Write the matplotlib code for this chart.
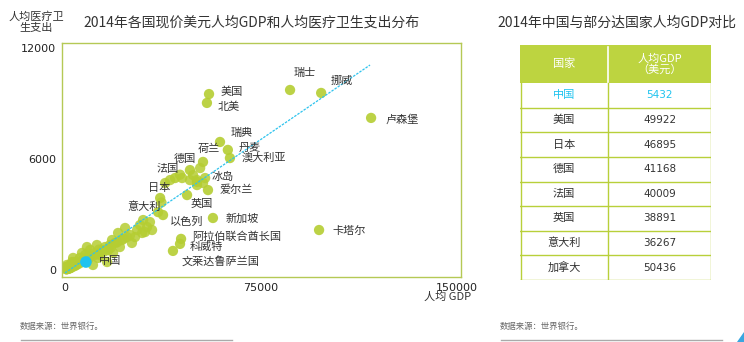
import matplotlib
matplotlib.use("Agg")
import matplotlib.pyplot as plt
from matplotlib.patches import Rectangle, Polygon

plt.rcParams['font.family'] = ['Noto Sans CJK SC', 'DejaVu Sans']

# ---- scatter data: GDP per capita (USD) vs health spend per capita (USD) ----
labeled_names = ["美国", "北美", "瑞士", "挪威", "卢森堡", "瑞典", "丹麦", "澳大利亚",
                 "荷兰", "德国", "法国", "日本", "意大利", "冰岛", "爱尔兰", "英国",
                 "以色列", "新加坡", "卡塔尔", "阿拉伯联合酋长国", "科威特", "文莱达鲁萨兰国"]
labeled_gdp = [55100, 54300, 86100, 98000, 117100, 59300, 62300, 63100,
               52800, 47800, 42100, 36400, 35600, 50500, 54700, 46700,
               37500, 56600, 97200, 44400, 44000, 41300]
labeled_health = [9510, 9030, 9730, 9570, 8220, 6920, 6490, 6050,
                  5840, 5400, 4970, 3890, 3130, 4760, 4320, 4050,
                  2970, 2810, 2160, 1680, 1410, 1030]
# label offsets in pixels (dx, dy) and alignment
label_dx = [12, 11, 3, 9, 14, 11, 11, 12, 17, -5, -7, -1, -14, 15, 12, 15, 24, 13, 13, 11, 10, 9]
label_dy = [2, -4, 17, 12, -2, 9, 2, 1, 13, 11, 9, 10, 5, 5, 0, -9, -7, -1, -1, 2, -3, -10]
label_ha = ["left", "left", "left", "left", "left", "left", "left", "left",
            "right", "center", "center", "center", "center", "left", "left", "center",
            "center", "left", "left", "left", "left", "left"]

other_gdp = [52800, 50500, 47800, 44800, 51700, 49000, 50500, 53600, 40200, 38300,
             29900, 31400, 27600, 29500, 25600, 23000, 20300, 18000, 15300, 12200,
             8400, 6500, 3100, 770, 10700, 16100, 21000, 23700, 2700, 5000,
             13400, 18400, 8800, 500, 300, 24900, 19100, 16500, 11500, 9600,
             7700, 5700, 3800, 1900, 1100, 400, 12600, 14500, 17200, 21800,
             26800, 28700, 32500, 33300, 30600, 36900, 44000, 14000, 9000, 6000,
             4200, 3500, 2300, 1500, 800, 600, 1300, 2000, 2900, 4600,
             5500, 7000, 10000, 11000, 13000, 15000, 17500, 20000, 22500, 1700]
other_health = [4700, 4590, 4860, 4970, 5510, 5130, 4860, 4970, 4860, 4700,
                2700, 2320, 2160, 2000, 1460, 2270, 2000, 1620, 1240, 1350,
                1240, 920, 650, 270, 270, 430, 1240, 1780, 430, 380,
                810, 920, 700, 40, 150, 1890, 1460, 1080, 810, 1080,
                810, 650, 430, 270, 160, 110, 650, 1080, 1350, 1620,
                1780, 2430, 2590, 2160, 2050, 3650, 5150, 1000, 600, 450,
                250, 200, 120, 80, 50, 30, 60, 100, 180, 300,
                350, 500, 750, 900, 1100, 1000, 1200, 1500, 1700, 90]

china_gdp = 8000
china_health = 430

# trend line
trend_x = [0, 116700]
trend_y = [-160, 11080]

# ---- table data ----
table_countries = ["中国", "美国", "日本", "德国", "法国", "英国", "意大利", "加拿大"]
table_gdp = [5432, 49922, 46895, 41168, 40009, 38891, 36267, 50436]

GREEN = "#b8d03a"
CYAN = "#1ec3ef"
TEXT = "#333333"
W, H = 744, 342

fig = plt.figure(figsize=(W / 100, H / 100), dpi=100)

# ---- scatter axes ----
ax = fig.add_axes([62 / W, 1 - 277 / H, 399 / W, 234 / H])
ax.scatter(other_gdp, other_health, s=55, color="#b5cd32", alpha=0.85, edgecolors="none", zorder=2)
ax.scatter(labeled_gdp, labeled_health, s=55, color="#b5cd32", alpha=0.9, edgecolors="none", zorder=2)
ax.plot(trend_x, trend_y, color="#2cc3ee", lw=0.9, ls=(0, (2, 1)), zorder=3)
ax.scatter([china_gdp], [china_health], s=70, color=CYAN, edgecolors="none", zorder=4)

for name, x, y, dx, dy, ha in zip(labeled_names, labeled_gdp, labeled_health,
                                   label_dx, label_dy, label_ha):
    ax.annotate(name, (x, y), xytext=(dx, dy), textcoords="offset pixels",
                ha=ha, va="center", fontsize=8, color=TEXT, zorder=5)
ax.annotate("中国", (china_gdp, china_health), xytext=(13, 1), textcoords="offset pixels",
            ha="left", va="center", fontsize=8, color=TEXT, zorder=5)

ax.set_xlim(-1150, 151500)
ax.set_ylim(-380, 12270)
ax.set_xticks([0, 75000, 150000])
ax.set_yticks([0, 6000, 12000])
ax.tick_params(length=0, labelsize=8, labelcolor="#222222", pad=4)
for lbl in ax.get_xticklabels() + ax.get_yticklabels():
    lbl.set_family("DejaVu Sans")
for sp in ax.spines.values():
    sp.set_color("#b5c955")
    sp.set_linewidth(1)

fig.text(36 / W, 1 - 22 / H, "人均医疗卫\n生支出", ha="center", va="center",
         fontsize=8, color=TEXT, linespacing=1.1)
fig.text(471 / W, 1 - 297 / H, "人均 GDP", ha="right", va="center", fontsize=8, color=TEXT)
fig.text(252 / W, 1 - 23 / H, "2014年各国现价美元人均GDP和人均医疗卫生支出分布",
         ha="center", va="center", fontsize=10, color=TEXT)
fig.text(617 / W, 1 - 23 / H, "2014年中国与部分达国家人均GDP对比",
         ha="center", va="center", fontsize=10, color=TEXT)

# ---- table axes (pixel coords inside) ----
tw, th = 191, 235
tx = fig.add_axes([520 / W, 1 - 280 / H, tw / W, th / H])
tx.set_xlim(0, tw)
tx.set_ylim(th, 0)
tx.axis("off")
head_h = 38
row_h = (th - head_h) / len(table_countries)
col_x = 88
tx.add_patch(Rectangle((0, 0), tw, head_h, facecolor="#bdd440", edgecolor="none"))
tx.plot([col_x, col_x], [2, head_h], color="white", lw=1.2)
tx.text(col_x / 2, head_h / 2, "国家", ha="center", va="center", fontsize=8, color="white")
tx.text((col_x + tw) / 2, head_h / 2, "人均GDP\n（美元）", ha="center", va="center",
        fontsize=8, color="white", linespacing=1.0)
for i, (c, g) in enumerate(zip(table_countries, table_gdp)):
    y0 = head_h + i * row_h
    col = CYAN if c == "中国" else TEXT
    tx.text(col_x / 2, y0 + row_h / 2, c, ha="center", va="center", fontsize=8, color=col)
    tx.text((col_x + tw) / 2, y0 + row_h / 2, str(g), ha="center", va="center",
            fontsize=7.5, color=col, family="DejaVu Sans")
    tx.plot([0, tw], [y0 + row_h, y0 + row_h], color=GREEN, lw=1)
for xv in [0.5, col_x, tw - 0.5]:
    tx.plot([xv, xv], [head_h, th], color=GREEN, lw=1)

# ---- footnotes ----
fig.text(20 / W, 1 - 326 / H, "数据来源：世界银行。", ha="left", va="center", fontsize=6, color="#666666")
fig.text(500 / W, 1 - 326 / H, "数据来源：世界银行。", ha="left", va="center", fontsize=6, color="#666666")
fig.add_artist(plt.Line2D([21 / W, 232 / W], [1 - 340 / H] * 2, color="#aaaaaa", lw=1))
fig.add_artist(plt.Line2D([501 / W, 722 / W], [1 - 340 / H] * 2, color="#aaaaaa", lw=1))
fig.add_artist(Polygon([[737 / W, 0], [744 / W, 0], [744 / W, 10 / H]], closed=True,
                       transform=fig.transFigure, color="#3aa6e0"))

fig.savefig("out.png", dpi=100)
